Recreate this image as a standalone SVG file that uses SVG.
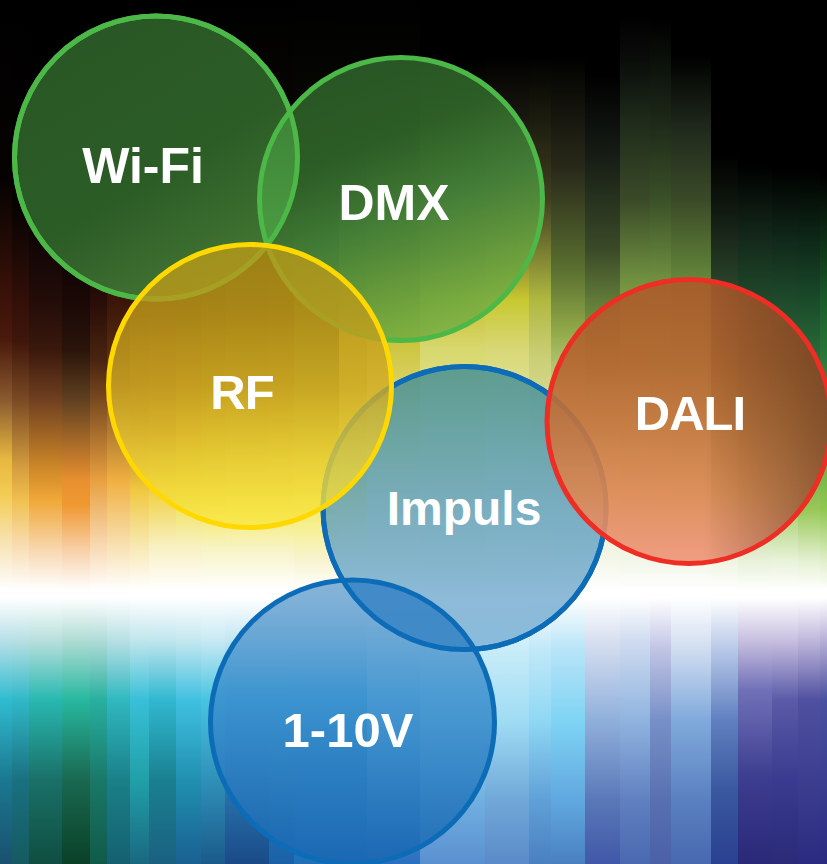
<svg xmlns="http://www.w3.org/2000/svg" width="827" height="864" viewBox="0 0 827 864">
<style>
.lbl{font-family:"Liberation Sans",Arial,Helvetica,sans-serif;font-weight:bold;fill:#fff;text-anchor:middle}
.sg{fill:none;stroke:#4cb848;stroke-width:5}
.sy{fill:none;stroke:#ffd800;stroke-width:5}
.sb{fill:none;stroke:#0d6cb7;stroke-width:5}
.sr{fill:none;stroke:#ee2d24;stroke-width:5}
</style>
<defs>
<linearGradient id="s0" gradientUnits="userSpaceOnUse" x1="0" y1="0" x2="0" y2="864"><stop offset="0" stop-color="#000"/><stop offset=".208" stop-color="#060201"/><stop offset=".347" stop-color="#3c1209"/><stop offset=".394" stop-color="#4a1a0c"/><stop offset=".463" stop-color="#8a5a30"/><stop offset=".532" stop-color="#e8b840"/><stop offset=".573" stop-color="#f4cc54"/><stop offset=".631" stop-color="#f8e4b8"/><stop offset=".683" stop-color="#fff"/><stop offset=".692" stop-color="#fff"/><stop offset=".741" stop-color="#b8e0e8"/><stop offset=".81" stop-color="#30bcd0"/><stop offset=".903" stop-color="#1a7890"/><stop offset="1" stop-color="#1a5070"/></linearGradient>
<linearGradient id="s1" gradientUnits="userSpaceOnUse" x1="0" y1="0" x2="0" y2="864"><stop offset="0" stop-color="#000"/><stop offset=".231" stop-color="#050201"/><stop offset=".347" stop-color="#320f08"/><stop offset=".394" stop-color="#3e160a"/><stop offset=".463" stop-color="#7a4a24"/><stop offset=".544" stop-color="#d8a040"/><stop offset=".579" stop-color="#f0c050"/><stop offset=".631" stop-color="#f8dcb0"/><stop offset=".683" stop-color="#fff"/><stop offset=".692" stop-color="#fff"/><stop offset=".741" stop-color="#b8e0e4"/><stop offset=".81" stop-color="#30b8c8"/><stop offset=".903" stop-color="#1a7080"/><stop offset="1" stop-color="#155a60"/></linearGradient>
<linearGradient id="s2" gradientUnits="userSpaceOnUse" x1="0" y1="0" x2="0" y2="864"><stop offset="0" stop-color="#000"/><stop offset=".231" stop-color="#040101"/><stop offset=".347" stop-color="#220c08"/><stop offset=".405" stop-color="#3a180c"/><stop offset=".463" stop-color="#704020"/><stop offset=".544" stop-color="#d08a28"/><stop offset=".579" stop-color="#f0a838"/><stop offset=".637" stop-color="#f8d8b0"/><stop offset=".683" stop-color="#fff"/><stop offset=".692" stop-color="#fff"/><stop offset=".741" stop-color="#b8e0dc"/><stop offset=".81" stop-color="#28b8b0"/><stop offset=".903" stop-color="#1a7068"/><stop offset="1" stop-color="#0f4e40"/></linearGradient>
<linearGradient id="s3" gradientUnits="userSpaceOnUse" x1="0" y1="0" x2="0" y2="864"><stop offset="0" stop-color="#000"/><stop offset=".255" stop-color="#040101"/><stop offset=".347" stop-color="#1a0806"/><stop offset=".405" stop-color="#2a140a"/><stop offset=".463" stop-color="#604020"/><stop offset=".556" stop-color="#e89030"/><stop offset=".584" stop-color="#f09830"/><stop offset=".637" stop-color="#f8d0a8"/><stop offset=".683" stop-color="#fff"/><stop offset=".692" stop-color="#fff"/><stop offset=".741" stop-color="#b0dcd4"/><stop offset=".81" stop-color="#28b8a0"/><stop offset=".903" stop-color="#1a6850"/><stop offset="1" stop-color="#0a4028"/></linearGradient>
<linearGradient id="s4" gradientUnits="userSpaceOnUse" x1="0" y1="0" x2="0" y2="864"><stop offset="0" stop-color="#000"/><stop offset=".231" stop-color="#050201"/><stop offset=".347" stop-color="#280c08"/><stop offset=".417" stop-color="#4a2410"/><stop offset=".463" stop-color="#7a4a20"/><stop offset=".556" stop-color="#e8a040"/><stop offset=".631" stop-color="#f8d8b0"/><stop offset=".683" stop-color="#fff"/><stop offset=".692" stop-color="#fff"/><stop offset=".741" stop-color="#b0dcd8"/><stop offset=".81" stop-color="#28b0a0"/><stop offset=".903" stop-color="#1a7868"/><stop offset="1" stop-color="#105a48"/></linearGradient>
<linearGradient id="s5" gradientUnits="userSpaceOnUse" x1="0" y1="0" x2="0" y2="864"><stop offset="0" stop-color="#000"/><stop offset=".231" stop-color="#080302"/><stop offset=".347" stop-color="#3a1508"/><stop offset=".417" stop-color="#5a3010"/><stop offset=".463" stop-color="#8a5a28"/><stop offset=".556" stop-color="#f0b040"/><stop offset=".631" stop-color="#f8e0b0"/><stop offset=".683" stop-color="#fff"/><stop offset=".692" stop-color="#fff"/><stop offset=".741" stop-color="#b8e0e4"/><stop offset=".81" stop-color="#30b8c0"/><stop offset=".903" stop-color="#1a8088"/><stop offset="1" stop-color="#156070"/></linearGradient>
<linearGradient id="s6" gradientUnits="userSpaceOnUse" x1="0" y1="0" x2="0" y2="864"><stop offset="0" stop-color="#000"/><stop offset=".231" stop-color="#080302"/><stop offset=".347" stop-color="#401a08"/><stop offset=".486" stop-color="#a06a20"/><stop offset=".567" stop-color="#f0c840"/><stop offset=".631" stop-color="#f8e8b0"/><stop offset=".683" stop-color="#fff"/><stop offset=".692" stop-color="#fff"/><stop offset=".741" stop-color="#c0e6ec"/><stop offset=".81" stop-color="#38c0d8"/><stop offset=".903" stop-color="#20a0a8"/><stop offset="1" stop-color="#1a6880"/></linearGradient>
<linearGradient id="s7" gradientUnits="userSpaceOnUse" x1="0" y1="0" x2="0" y2="864"><stop offset="0" stop-color="#000"/><stop offset=".231" stop-color="#080402"/><stop offset=".347" stop-color="#401a08"/><stop offset=".498" stop-color="#b07a20"/><stop offset=".567" stop-color="#f0d040"/><stop offset=".631" stop-color="#f8f0c0"/><stop offset=".683" stop-color="#fff"/><stop offset=".692" stop-color="#fff"/><stop offset=".741" stop-color="#c0e6ee"/><stop offset=".81" stop-color="#30b8d0"/><stop offset=".903" stop-color="#1a8090"/><stop offset="1" stop-color="#1a6080"/></linearGradient>
<linearGradient id="s8" gradientUnits="userSpaceOnUse" x1="0" y1="0" x2="0" y2="864"><stop offset="0" stop-color="#000"/><stop offset=".231" stop-color="#0a0602"/><stop offset=".347" stop-color="#3a2008"/><stop offset=".498" stop-color="#c09020"/><stop offset=".573" stop-color="#f0e048"/><stop offset=".631" stop-color="#f8f0c0"/><stop offset=".683" stop-color="#fff"/><stop offset=".692" stop-color="#fff"/><stop offset=".741" stop-color="#c4e8f0"/><stop offset=".81" stop-color="#40c0e0"/><stop offset=".903" stop-color="#2090b0"/><stop offset="1" stop-color="#1a6090"/></linearGradient>
<linearGradient id="s9" gradientUnits="userSpaceOnUse" x1="0" y1="0" x2="0" y2="864"><stop offset="0" stop-color="#000"/><stop offset=".231" stop-color="#0a0803"/><stop offset=".347" stop-color="#402808"/><stop offset=".498" stop-color="#c0a020"/><stop offset=".579" stop-color="#f4e450"/><stop offset=".637" stop-color="#f8f4c8"/><stop offset=".683" stop-color="#fff"/><stop offset=".692" stop-color="#fff"/><stop offset=".741" stop-color="#c8eaf4"/><stop offset=".81" stop-color="#48c4e0"/><stop offset=".903" stop-color="#3090b8"/><stop offset="1" stop-color="#1a5a8a"/></linearGradient>
<linearGradient id="s10" gradientUnits="userSpaceOnUse" x1="0" y1="0" x2="0" y2="864"><stop offset="0" stop-color="#000"/><stop offset=".231" stop-color="#0a0903"/><stop offset=".347" stop-color="#443008"/><stop offset=".498" stop-color="#c4a828"/><stop offset=".579" stop-color="#f4e858"/><stop offset=".637" stop-color="#f8f4c8"/><stop offset=".683" stop-color="#fff"/><stop offset=".692" stop-color="#fff"/><stop offset=".741" stop-color="#c4e6f4"/><stop offset=".81" stop-color="#40b4e0"/><stop offset=".903" stop-color="#2a78b0"/><stop offset="1" stop-color="#1a4a88"/></linearGradient>
<linearGradient id="s11" gradientUnits="userSpaceOnUse" x1="0" y1="0" x2="0" y2="864"><stop offset="0" stop-color="#000"/><stop offset=".231" stop-color="#0a0903"/><stop offset=".347" stop-color="#483408"/><stop offset=".498" stop-color="#c8ac28"/><stop offset=".579" stop-color="#f4e858"/><stop offset=".637" stop-color="#f8f4c8"/><stop offset=".683" stop-color="#fff"/><stop offset=".692" stop-color="#fff"/><stop offset=".741" stop-color="#c4e6f4"/><stop offset=".81" stop-color="#40b4e0"/><stop offset=".903" stop-color="#2a80b8"/><stop offset="1" stop-color="#1a60a8"/></linearGradient>
<linearGradient id="s12" gradientUnits="userSpaceOnUse" x1="0" y1="0" x2="0" y2="864"><stop offset="0" stop-color="#000"/><stop offset=".231" stop-color="#0c0c04"/><stop offset=".347" stop-color="#505010"/><stop offset=".498" stop-color="#c8b830"/><stop offset=".579" stop-color="#f4ec60"/><stop offset=".648" stop-color="#f8f4d0"/><stop offset=".683" stop-color="#fff"/><stop offset=".692" stop-color="#fff"/><stop offset=".741" stop-color="#c4e6f4"/><stop offset=".81" stop-color="#40b0e0"/><stop offset=".903" stop-color="#2a80c0"/><stop offset="1" stop-color="#2070b8"/></linearGradient>
<linearGradient id="s13" gradientUnits="userSpaceOnUse" x1="0" y1="0" x2="0" y2="864"><stop offset="0" stop-color="#000"/><stop offset=".2" stop-color="#0a0a04"/><stop offset=".301" stop-color="#606018"/><stop offset=".382" stop-color="#b8b030"/><stop offset=".498" stop-color="#d8cc50"/><stop offset=".579" stop-color="#f4ec70"/><stop offset=".648" stop-color="#f8f6d8"/><stop offset=".683" stop-color="#fff"/><stop offset=".692" stop-color="#fff"/><stop offset=".741" stop-color="#c4e6f4"/><stop offset=".81" stop-color="#40b0e0"/><stop offset=".903" stop-color="#2a80c0"/><stop offset="1" stop-color="#2070c0"/></linearGradient>
<linearGradient id="s14" gradientUnits="userSpaceOnUse" x1="0" y1="0" x2="0" y2="864"><stop offset="0" stop-color="#000"/><stop offset=".174" stop-color="#080804"/><stop offset=".289" stop-color="#605818"/><stop offset=".382" stop-color="#c8c030"/><stop offset=".44" stop-color="#d8d060"/><stop offset=".521" stop-color="#e8e890"/><stop offset=".648" stop-color="#f6f6d8"/><stop offset=".683" stop-color="#fff"/><stop offset=".692" stop-color="#fff"/><stop offset=".752" stop-color="#c8ecf8"/><stop offset=".833" stop-color="#80c8ec"/><stop offset=".926" stop-color="#4a90d0"/><stop offset="1" stop-color="#2a70c0"/></linearGradient>
<linearGradient id="s15" gradientUnits="userSpaceOnUse" x1="0" y1="0" x2="0" y2="864"><stop offset="0" stop-color="#000"/><stop offset=".069" stop-color="#000"/><stop offset=".197" stop-color="#2a2a10"/><stop offset=".301" stop-color="#807830"/><stop offset=".347" stop-color="#c8c030"/><stop offset=".405" stop-color="#d8d870"/><stop offset=".521" stop-color="#e8e8a0"/><stop offset=".648" stop-color="#f4f4d8"/><stop offset=".683" stop-color="#fff"/><stop offset=".692" stop-color="#fff"/><stop offset=".752" stop-color="#c8ecf8"/><stop offset=".833" stop-color="#a0dcf8"/><stop offset=".926" stop-color="#70b0e0"/><stop offset="1" stop-color="#5a90d0"/></linearGradient>
<linearGradient id="s16" gradientUnits="userSpaceOnUse" x1="0" y1="0" x2="0" y2="864"><stop offset="0" stop-color="#000"/><stop offset=".066" stop-color="#000"/><stop offset=".139" stop-color="#1a1810"/><stop offset=".231" stop-color="#4a4020"/><stop offset=".301" stop-color="#908830"/><stop offset=".347" stop-color="#c8c830"/><stop offset=".405" stop-color="#d8d878"/><stop offset=".521" stop-color="#e8ecb0"/><stop offset=".648" stop-color="#f4f6e0"/><stop offset=".683" stop-color="#fff"/><stop offset=".692" stop-color="#fff"/><stop offset=".752" stop-color="#c8ecf8"/><stop offset=".833" stop-color="#a0dcf4"/><stop offset=".926" stop-color="#70a8d8"/><stop offset="1" stop-color="#5a8ac8"/></linearGradient>
<linearGradient id="s17" gradientUnits="userSpaceOnUse" x1="0" y1="0" x2="0" y2="864"><stop offset="0" stop-color="#000"/><stop offset=".066" stop-color="#000"/><stop offset=".231" stop-color="#404020"/><stop offset=".347" stop-color="#b0b840"/><stop offset=".405" stop-color="#c8cc70"/><stop offset=".521" stop-color="#e4eab0"/><stop offset=".648" stop-color="#f4f6e0"/><stop offset=".683" stop-color="#fff"/><stop offset=".692" stop-color="#fff"/><stop offset=".752" stop-color="#c0e8f8"/><stop offset=".833" stop-color="#90d8f4"/><stop offset=".926" stop-color="#60a0d8"/><stop offset="1" stop-color="#4a80c0"/></linearGradient>
<linearGradient id="s18" gradientUnits="userSpaceOnUse" x1="0" y1="0" x2="0" y2="864"><stop offset="0" stop-color="#000"/><stop offset=".064" stop-color="#000"/><stop offset=".197" stop-color="#2a2a1a"/><stop offset=".313" stop-color="#5a7030"/><stop offset=".382" stop-color="#90a848"/><stop offset=".44" stop-color="#c0d080"/><stop offset=".521" stop-color="#e0e8b8"/><stop offset=".648" stop-color="#f4f6e8"/><stop offset=".683" stop-color="#fff"/><stop offset=".692" stop-color="#fff"/><stop offset=".752" stop-color="#b8e4f8"/><stop offset=".833" stop-color="#80d4f4"/><stop offset=".926" stop-color="#60a8e0"/><stop offset="1" stop-color="#4a80c0"/></linearGradient>
<linearGradient id="s19" gradientUnits="userSpaceOnUse" x1="0" y1="0" x2="0" y2="864"><stop offset="0" stop-color="#000"/><stop offset=".087" stop-color="#000"/><stop offset=".174" stop-color="#141a14"/><stop offset=".289" stop-color="#3a4a28"/><stop offset=".347" stop-color="#607a38"/><stop offset=".394" stop-color="#80a040"/><stop offset=".44" stop-color="#b0c870"/><stop offset=".521" stop-color="#e0e8b8"/><stop offset=".648" stop-color="#f4f6e8"/><stop offset=".683" stop-color="#fff"/><stop offset=".692" stop-color="#fff"/><stop offset=".741" stop-color="#d8e0f0"/><stop offset=".833" stop-color="#90b0dc"/><stop offset=".926" stop-color="#5a78b8"/><stop offset="1" stop-color="#4058a8"/></linearGradient>
<linearGradient id="s20" gradientUnits="userSpaceOnUse" x1="0" y1="0" x2="0" y2="864"><stop offset="0" stop-color="#000"/><stop offset=".017" stop-color="#000"/><stop offset=".069" stop-color="#0a0c0a"/><stop offset=".139" stop-color="#1e2a1a"/><stop offset=".231" stop-color="#3a4a28"/><stop offset=".324" stop-color="#709040"/><stop offset=".382" stop-color="#90b040"/><stop offset=".521" stop-color="#d8e8b0"/><stop offset=".648" stop-color="#f2f6e8"/><stop offset=".683" stop-color="#fff"/><stop offset=".692" stop-color="#fff"/><stop offset=".741" stop-color="#d0dcf0"/><stop offset=".833" stop-color="#90b4e0"/><stop offset=".926" stop-color="#6080c0"/><stop offset="1" stop-color="#4a68b0"/></linearGradient>
<linearGradient id="s21" gradientUnits="userSpaceOnUse" x1="0" y1="0" x2="0" y2="864"><stop offset="0" stop-color="#000"/><stop offset=".023" stop-color="#000"/><stop offset=".139" stop-color="#1c2818"/><stop offset=".231" stop-color="#3a5028"/><stop offset=".324" stop-color="#709040"/><stop offset=".382" stop-color="#88b048"/><stop offset=".521" stop-color="#d4e6a8"/><stop offset=".648" stop-color="#f2f6e8"/><stop offset=".683" stop-color="#fff"/><stop offset=".692" stop-color="#fff"/><stop offset=".752" stop-color="#c0c4e4"/><stop offset=".833" stop-color="#7890c8"/><stop offset=".926" stop-color="#5870b0"/><stop offset="1" stop-color="#4a60a8"/></linearGradient>
<linearGradient id="s22" gradientUnits="userSpaceOnUse" x1="0" y1="0" x2="0" y2="864"><stop offset="0" stop-color="#000"/><stop offset=".064" stop-color="#000"/><stop offset=".15" stop-color="#202a1c"/><stop offset=".231" stop-color="#3a4a28"/><stop offset=".313" stop-color="#608038"/><stop offset=".382" stop-color="#80a848"/><stop offset=".521" stop-color="#d0e4a8"/><stop offset=".648" stop-color="#f2f6e8"/><stop offset=".683" stop-color="#fff"/><stop offset=".692" stop-color="#fff"/><stop offset=".752" stop-color="#d0dcf0"/><stop offset=".833" stop-color="#80aadc"/><stop offset=".926" stop-color="#5a80c0"/><stop offset="1" stop-color="#4868b0"/></linearGradient>
<linearGradient id="s23" gradientUnits="userSpaceOnUse" x1="0" y1="0" x2="0" y2="864"><stop offset="0" stop-color="#000"/><stop offset=".179" stop-color="#000"/><stop offset=".255" stop-color="#141e14"/><stop offset=".324" stop-color="#284028"/><stop offset=".382" stop-color="#3a5a30"/><stop offset=".463" stop-color="#608a40"/><stop offset=".579" stop-color="#b8d890"/><stop offset=".648" stop-color="#eef4e0"/><stop offset=".683" stop-color="#fff"/><stop offset=".692" stop-color="#fff"/><stop offset=".752" stop-color="#b8c8e8"/><stop offset=".833" stop-color="#6080c0"/><stop offset=".914" stop-color="#3a58a0"/><stop offset="1" stop-color="#2a4090"/></linearGradient>
<linearGradient id="s24" gradientUnits="userSpaceOnUse" x1="0" y1="0" x2="0" y2="864"><stop offset="0" stop-color="#000"/><stop offset=".191" stop-color="#000"/><stop offset=".266" stop-color="#122418"/><stop offset=".336" stop-color="#1e4428"/><stop offset=".405" stop-color="#2a5a30"/><stop offset=".521" stop-color="#70a048"/><stop offset=".59" stop-color="#b0d480"/><stop offset=".648" stop-color="#e8f0d8"/><stop offset=".683" stop-color="#fff"/><stop offset=".692" stop-color="#fff"/><stop offset=".741" stop-color="#c8c0e0"/><stop offset=".799" stop-color="#7070b8"/><stop offset=".903" stop-color="#3c3c90"/><stop offset="1" stop-color="#2a2878"/></linearGradient>
<linearGradient id="s25" gradientUnits="userSpaceOnUse" x1="0" y1="0" x2="0" y2="864"><stop offset="0" stop-color="#000"/><stop offset=".197" stop-color="#000"/><stop offset=".278" stop-color="#10281a"/><stop offset=".347" stop-color="#1e4a2c"/><stop offset=".417" stop-color="#2a6a38"/><stop offset=".521" stop-color="#70b048"/><stop offset=".59" stop-color="#a8d070"/><stop offset=".648" stop-color="#e8f2d8"/><stop offset=".683" stop-color="#fff"/><stop offset=".692" stop-color="#fff"/><stop offset=".741" stop-color="#c8c0e0"/><stop offset=".81" stop-color="#5a5aa8"/><stop offset=".903" stop-color="#3a3a90"/><stop offset="1" stop-color="#2a2a78"/></linearGradient>
<linearGradient id="s26" gradientUnits="userSpaceOnUse" x1="0" y1="0" x2="0" y2="864"><stop offset="0" stop-color="#000"/><stop offset=".197" stop-color="#000"/><stop offset=".347" stop-color="#1a4a2a"/><stop offset=".417" stop-color="#2a6e3a"/><stop offset=".59" stop-color="#98c858"/><stop offset=".648" stop-color="#e4f0d0"/><stop offset=".683" stop-color="#fff"/><stop offset=".692" stop-color="#fff"/><stop offset=".741" stop-color="#c0b8dc"/><stop offset=".81" stop-color="#5050a0"/><stop offset="1" stop-color="#2a2a80"/></linearGradient>
<linearGradient id="s27" gradientUnits="userSpaceOnUse" x1="0" y1="0" x2="0" y2="864"><stop offset="0" stop-color="#000"/><stop offset=".203" stop-color="#000"/><stop offset=".347" stop-color="#1a5a2a"/><stop offset=".417" stop-color="#2a7a3a"/><stop offset=".59" stop-color="#90c850"/><stop offset=".648" stop-color="#e0eec8"/><stop offset=".683" stop-color="#fff"/><stop offset=".692" stop-color="#fff"/><stop offset=".741" stop-color="#b8b0d8"/><stop offset=".81" stop-color="#4a50a0"/><stop offset="1" stop-color="#2a2a80"/></linearGradient>

<linearGradient id="gWifi" x1=".2" y1="0" x2=".8" y2="1"><stop offset="0" stop-color="#2c5e28"/><stop offset=".55" stop-color="#2f6429"/><stop offset="1" stop-color="#4a823a"/></linearGradient>
<linearGradient id="gDmx" x1=".3" y1="0" x2=".7" y2="1"><stop offset="0" stop-color="#2c5e28"/><stop offset=".3" stop-color="#306629"/><stop offset=".55" stop-color="#44843a"/><stop offset=".8" stop-color="#66a03e"/><stop offset="1" stop-color="#80b444"/></linearGradient>
<linearGradient id="gLens1" gradientUnits="userSpaceOnUse" x1="0" y1="90" x2="0" y2="250"><stop offset="0" stop-color="#3a8035"/><stop offset="1" stop-color="#4c9c42"/></linearGradient>
<linearGradient id="gRf" x1="0" y1="0" x2="0" y2="1"><stop offset="0" stop-color="#b89a18"/><stop offset=".25" stop-color="#c09a1a"/><stop offset=".5" stop-color="#d0aa22"/><stop offset=".75" stop-color="#eace34"/><stop offset="1" stop-color="#fae840"/></linearGradient>
<linearGradient id="gImp" x1="0" y1="0" x2="0" y2="1"><stop offset="0" stop-color="#3f8c93"/><stop offset=".5" stop-color="#5c9dbe"/><stop offset=".9" stop-color="#75acd1"/><stop offset="1" stop-color="#7aafd4"/></linearGradient>
<linearGradient id="gV" x1="0" y1="0" x2="0" y2="1"><stop offset="0" stop-color="#73a7d1"/><stop offset=".4" stop-color="#3b8fcd"/><stop offset=".7" stop-color="#2a7cc0"/><stop offset="1" stop-color="#1966b1"/></linearGradient>
<linearGradient id="gDali" x1="0" y1="0" x2="0" y2="1"><stop offset="0" stop-color="#aa5a2a"/><stop offset=".3" stop-color="#b4642f"/><stop offset=".5" stop-color="#c4723a"/><stop offset=".75" stop-color="#dc8650"/><stop offset="1" stop-color="#f09478"/></linearGradient>
<linearGradient id="gDaliShade" x1="0" y1="0" x2="1" y2="0"><stop offset="0" stop-color="#4a2a1a" stop-opacity="0"/><stop offset=".55" stop-color="#4a2a1a" stop-opacity="0"/><stop offset="1" stop-color="#4a2a1a" stop-opacity=".5"/></linearGradient>
<clipPath id="cWifi"><circle cx="156" cy="157.5" r="141.5"/></clipPath>
<clipPath id="cImp"><circle cx="464.5" cy="508" r="141.5"/></clipPath>
</defs>

<g id="background">
<rect x="0" y="0" width="827" height="864" fill="#000"/>
<rect x="0" y="0" width="12" height="864" fill="url(#s0)"/>
<rect x="12" y="0" width="17" height="864" fill="url(#s1)"/>
<rect x="29" y="0" width="33" height="864" fill="url(#s2)"/>
<rect x="62" y="0" width="28" height="864" fill="url(#s3)"/>
<rect x="90" y="0" width="17" height="864" fill="url(#s4)"/>
<rect x="107" y="0" width="23" height="864" fill="url(#s5)"/>
<rect x="130" y="0" width="19" height="864" fill="url(#s6)"/>
<rect x="149" y="0" width="27" height="864" fill="url(#s7)"/>
<rect x="176" y="0" width="25" height="864" fill="url(#s8)"/>
<rect x="201" y="0" width="24" height="864" fill="url(#s9)"/>
<rect x="225" y="0" width="44" height="864" fill="url(#s10)"/>
<rect x="269" y="0" width="25" height="864" fill="url(#s11)"/>
<rect x="294" y="0" width="45" height="864" fill="url(#s12)"/>
<rect x="339" y="0" width="28" height="864" fill="url(#s13)"/>
<rect x="367" y="0" width="53" height="864" fill="url(#s14)"/>
<rect x="420" y="0" width="65" height="864" fill="url(#s15)"/>
<rect x="485" y="0" width="44" height="864" fill="url(#s16)"/>
<rect x="529" y="0" width="22" height="864" fill="url(#s17)"/>
<rect x="551" y="0" width="34" height="864" fill="url(#s18)"/>
<rect x="585" y="0" width="35" height="864" fill="url(#s19)"/>
<rect x="620" y="0" width="30" height="864" fill="url(#s20)"/>
<rect x="650" y="0" width="21" height="864" fill="url(#s21)"/>
<rect x="671" y="0" width="40" height="864" fill="url(#s22)"/>
<rect x="711" y="0" width="27" height="864" fill="url(#s23)"/>
<rect x="738" y="0" width="34" height="864" fill="url(#s24)"/>
<rect x="772" y="0" width="26" height="864" fill="url(#s25)"/>
<rect x="798" y="0" width="22" height="864" fill="url(#s26)"/>
<rect x="820" y="0" width="7" height="864" fill="url(#s27)"/>
</g>

<g id="connectors"/>

<g id="node-wifi">
<circle cx="156" cy="157.5" r="141.5" fill="url(#gWifi)" fill-opacity=".92"/>
<circle cx="156" cy="157.5" r="141.5" class="sg"/>
<text class="lbl" x="143" y="183" font-size="50">Wi-Fi</text>
</g>

<g id="node-dmx">
<circle cx="401" cy="199" r="141.5" fill="url(#gDmx)" fill-opacity=".9"/>
<circle cx="401" cy="199" r="141.5" fill="url(#gLens1)" clip-path="url(#cWifi)"/>
<circle cx="156" cy="157.5" r="141.5" class="sg"/>
<circle cx="401" cy="199" r="141.5" class="sg"/>
<text class="lbl" x="394" y="220" font-size="50">DMX</text>
</g>

<g id="node-impuls">
<circle cx="464.5" cy="508" r="141.5" fill="url(#gImp)" fill-opacity=".8"/>
<circle cx="464.5" cy="508" r="141.5" class="sb"/>
<text class="lbl" x="464" y="525" font-size="48">Impuls</text>
</g>

<g id="node-1-10v">
<circle cx="352.5" cy="722" r="142" fill="url(#gV)" fill-opacity=".85"/>
<circle cx="352.5" cy="722" r="142" fill="#3f89c7" fill-opacity=".95" clip-path="url(#cImp)"/>
<circle cx="464.5" cy="508" r="141.5" class="sb"/>
<circle cx="352.5" cy="722" r="142" class="sb"/>
<text class="lbl" x="348" y="747" font-size="49">1-10V</text>
</g>

<g id="node-rf">
<circle cx="250" cy="386" r="141.5" fill="url(#gRf)" fill-opacity=".8"/>
<circle cx="250" cy="386" r="141.5" class="sy"/>
<text class="lbl" x="242" y="409" font-size="49" letter-spacing="-1">RF</text>
</g>

<g id="node-dali">
<circle cx="689" cy="421.5" r="142" fill="url(#gDali)" fill-opacity=".9"/>
<circle cx="689" cy="421.5" r="142" fill="url(#gDaliShade)"/>
<circle cx="689" cy="421.5" r="142" class="sr"/>
<text class="lbl" x="690" y="430" font-size="49" letter-spacing="-1">DALI</text>
</g>
</svg>
